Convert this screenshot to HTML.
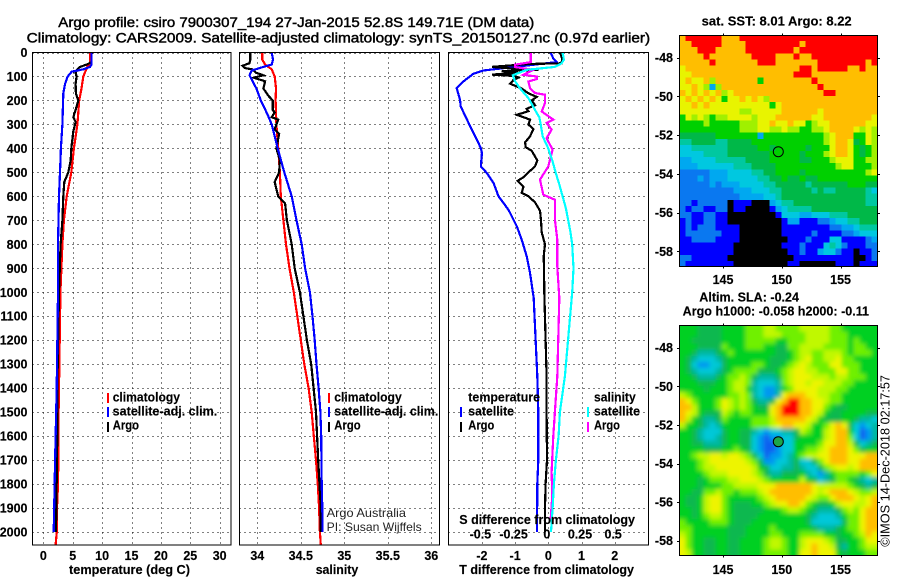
<!DOCTYPE html>
<html lang="en">
<head>
<meta charset="utf-8">
<title>Argo profile csiro 7900307_194</title>
<style>
html,body{margin:0;padding:0;background:#fff;}
svg{display:block;font-family:"Liberation Sans",sans-serif;}
text{fill:#000;}
.b{font-weight:bold;font-size:12.5px;stroke:#000;stroke-width:.15px;}
.lbl{stroke:#000;stroke-width:.15px;}
.t{font-size:14px;stroke:#000;stroke-width:.45px;}
.n{font-size:12px;fill:#222;}
</style>
</head>
<body>
<svg id="chart" xmlns="http://www.w3.org/2000/svg" width="900" height="580" viewBox="0 0 900 580">
  <defs>
    <clipPath id="clip-temp"><rect x="32.5" y="52.5" width="198.5" height="492.5"/></clipPath>
    <clipPath id="clip-sal"><rect x="239.5" y="52.5" width="200" height="492.5"/></clipPath>
    <clipPath id="clip-diff"><rect x="448.5" y="52.5" width="200" height="492.5"/></clipPath>
    <clipPath id="clip-sla"><rect x="679.5" y="325.5" width="198" height="230"/></clipPath>
    <clipPath id="clip-sst"><rect x="679.5" y="35.5" width="198" height="231"/></clipPath>
    <filter id="smooth" x="-5%" y="-5%" width="110%" height="110%"><feGaussianBlur stdDeviation="2.2"/></filter>
  </defs>
  <rect x="0" y="0" width="900" height="580" fill="#fff"/>

  <text class="t" x="58.3" y="27" textLength="476" lengthAdjust="spacingAndGlyphs">Argo profile: csiro 7900307_194 27-Jan-2015 52.8S 149.71E (DM data)</text>
  <text class="t" x="26.7" y="42.5" textLength="623.5" lengthAdjust="spacingAndGlyphs">Climatology: CARS2009. Satellite-adjusted climatology: synTS_20150127.nc (0.97d earlier)</text>

  <g id="layer-grid"></g>
  <g id="layer-temp" clip-path="url(#clip-temp)"></g>
  <g id="layer-sal" clip-path="url(#clip-sal)"></g>
  <g id="layer-diff" clip-path="url(#clip-diff)"></g>
  <g clip-path="url(#clip-sst)"><g id="layer-sst" shape-rendering="crispEdges"></g></g>
  <g clip-path="url(#clip-sla)"><g id="layer-sla" filter="url(#smooth)"></g></g>
  <g id="layer-frames"></g>

  <text class="b" x="69" y="574" textLength="121" lengthAdjust="spacingAndGlyphs">temperature (deg C)</text>
  <text class="b" x="315.7" y="574" textLength="42.6" lengthAdjust="spacingAndGlyphs">salinity</text>
  <text class="b" x="459.3" y="574" textLength="174.7" lengthAdjust="spacingAndGlyphs">T difference from climatology</text>
  <text class="b" x="459.3" y="524" textLength="175.7" lengthAdjust="spacingAndGlyphs">S difference from climatology</text>

  <g>
    <g><rect x="107" y="393" width="2" height="10" fill="#f00"/><text class="b" x="112.7" y="401.5" textLength="67.3" lengthAdjust="spacingAndGlyphs">climatology</text></g>
    <g><rect x="107" y="407" width="2" height="10" fill="#00f"/><text class="b" x="112.7" y="415.5" textLength="104.6" lengthAdjust="spacingAndGlyphs">satellite-adj. clim.</text></g>
    <g><rect x="107" y="422" width="2" height="10" fill="#000"/><text class="b" x="112.7" y="429.5" textLength="26.3" lengthAdjust="spacingAndGlyphs">Argo</text></g>
  </g>
  <g>
    <g><rect x="328" y="393" width="2" height="10" fill="#f00"/><text class="b" x="334.3" y="401.5" textLength="67.4" lengthAdjust="spacingAndGlyphs">climatology</text></g>
    <g><rect x="328" y="407" width="2" height="10" fill="#00f"/><text class="b" x="334.3" y="415.5" textLength="104" lengthAdjust="spacingAndGlyphs">satellite-adj. clim.</text></g>
    <g><rect x="328" y="422" width="2" height="10" fill="#000"/><text class="b" x="334.3" y="429.5" textLength="26.3" lengthAdjust="spacingAndGlyphs">Argo</text></g>
  </g>
  <g>
    <text class="b" x="468.3" y="401.5" textLength="71.7" lengthAdjust="spacingAndGlyphs">temperature</text>
    <g><rect x="460" y="407" width="2" height="10" fill="#00f"/><text class="b" x="468.3" y="415.5" textLength="45.7" lengthAdjust="spacingAndGlyphs">satellite</text></g>
    <g><rect x="460" y="422" width="2" height="10" fill="#000"/><text class="b" x="468.3" y="429.5" textLength="26" lengthAdjust="spacingAndGlyphs">Argo</text></g>
    <text class="b" x="594" y="401.5" textLength="41.7" lengthAdjust="spacingAndGlyphs">salinity</text>
    <g><rect x="587" y="407" width="2" height="10" fill="#0ff"/><text class="b" x="594" y="415.5" textLength="46" lengthAdjust="spacingAndGlyphs">satellite</text></g>
    <g><rect x="587" y="422" width="2" height="10" fill="#f0f"/><text class="b" x="594" y="429.5" textLength="26" lengthAdjust="spacingAndGlyphs">Argo</text></g>
  </g>
  <text class="n" x="326.7" y="517" textLength="79.3" lengthAdjust="spacingAndGlyphs">Argo Australia</text>
  <text class="n" x="326.7" y="531" textLength="95" lengthAdjust="spacingAndGlyphs">PI: Susan Wijffels</text>

  <text class="b" x="701.7" y="25.7" textLength="150" lengthAdjust="spacingAndGlyphs">sat. SST: 8.01 Argo: 8.22</text>
  <text class="b" x="699.3" y="301.3" textLength="99.7" lengthAdjust="spacingAndGlyphs">Altim. SLA: -0.24</text>
  <text class="b" x="682.7" y="315.7" textLength="186.3" lengthAdjust="spacingAndGlyphs">Argo h1000: -0.058 h2000: -0.11</text>
  <text font-size="13" transform="translate(889.5,546.7) rotate(-90)" textLength="171.7" lengthAdjust="spacingAndGlyphs">©IMOS 14-Dec-2018 02:17:57</text>

  <circle cx="778.3" cy="151.7" r="5" fill="none" stroke="#000" stroke-width="1"/>
  <circle cx="778.3" cy="441.7" r="5" fill="#1ca64a" stroke="#000" stroke-width="1"/>
</svg>

<script>
// ---- tick labels ----
const depthTicks = [0,100,200,300,400,500,600,700,800,900,1000,1100,1200,1300,1400,1500,1600,1700,1800,1900,2000];
const tempTicks = [0,5,10,15,20,25,30];
const salTicks = [34,34.5,35,35.5,36];
const tDiffTicks = [-2,-1,0,1,2];
const sDiffTicks = [-0.5,-0.25,0,0.25,0.5];
const sDiffTickLabels = ["-0.5","-0.25","0","0.25","0.5"];
const lonTicks = [145,150,155];
const latTicks = [-48,-50,-52,-54,-56,-58];

// ---- temperature profiles ----
const tempClimDepth = [0,50,59,100,150,200,300,400,500,600,700,800,900,1000,1400,1500,1700,1800,1900,2000,2054];
const tempClimValue = [8.0,8.0,7.5,6.8,6.5,6.1,5.8,5.2,4.76,3.98,3.5,3.25,3.07,2.9,2.67,2.6,2.55,2.5,2.33,2.3,2.1];
const tempSatDepth = [0,50,60,70,80,100,130,170,300,400,500,600,800,1000,1400,1700,2000];
const tempSatValue = [8.2,8.2,7.95,6.8,4.83,4.15,3.7,3.4,3.25,3.0,2.84,2.67,2.5,2.5,2.28,2.0,1.77];
const tempArgoDepth = [0,40,50,60,70,85,100,130,170,200,240,270,290,330,400,450,500,540,600,700,800,1000,1400,1600,2000];
const tempArgoValue = [8.2,8.2,7.4,6.24,5.8,5.5,5.67,5.5,5.55,5.95,5.5,5.1,5.5,5.1,4.76,4.66,4.25,3.57,3.4,3.25,2.95,2.67,2.38,2.38,2.16];

// ---- salinity profiles ----
const salClimDepth = [0,30,50,70,100,150,200,300,400,500,600,700,800,900,1000,1100,1200,1300,1400,1500,1600,1700,1800,1900,2000,2054];
const salClimValue = [34.057,34.057,34.09,34.165,34.2,34.215,34.21,34.22,34.24,34.26,34.27,34.3,34.33,34.37,34.42,34.46,34.5,34.54,34.59,34.625,34.65,34.675,34.695,34.71,34.72,34.73];
const salSatDepth = [0,30,50,60,75,95,150,200,260,300,400,500,600,700,800,900,1000,1100,1200,1300,1400,1500,1600,1800,1900,2000];
const salSatValue = [34.165,34.18,34.165,34.07,33.936,33.91,33.99,34.04,34.12,34.165,34.234,34.31,34.395,34.45,34.51,34.55,34.605,34.635,34.66,34.68,34.705,34.725,34.735,34.74,34.747,34.75];
const salArgoDepth = [0,30,45,55,65,70,85,95,105,120,150,180,200,240,250,270,280,320,340,400,450,500,540,600,630,700,800,900,1000,1100,1200,1300,1500,1700,1900,2000];
const salArgoValue = [33.92,33.92,33.91,33.83,33.86,33.94,33.99,34.07,33.96,34.09,34.07,34.126,34.177,34.177,34.2,34.165,34.24,34.2,34.25,34.22,34.26,34.25,34.2,34.24,34.32,34.34,34.395,34.43,34.49,34.53,34.57,34.62,34.675,34.7,34.73,34.73];

// ---- differences from climatology ----
const diffTSatDepth = [0,25,40,75,89,121,149,197,225,294,350,399,419,475,503,544,600,656,725,781,850,919,1024,1350,1500,1700,1800,2000];
const diffTSatValue = [0.07,0.15,0.25,-1.96,-2.26,-2.56,-2.76,-2.66,-2.64,-2.4,-2.2,-2.03,-2.0,-2.03,-1.85,-1.65,-1.5,-1.2,-0.95,-0.8,-0.65,-0.55,-0.44,-0.33,-0.3,-0.3,-0.33,-0.34];
const diffTArgoDepth = [0,25,45,48,60,68,72,78,85,92,98,105,115,130,150,170,185,200,220,235,245,260,280,300,320,350,375,395,410,450,475,500,520,535,560,585,600,625,660,700,750,800,850,900,1000,1350,1500,1700,1800,1900,2000];
const diffTArgoValue = [0.35,0.42,0.4,-0.6,-1.7,-1.0,-0.3,-1.4,-0.9,-1.7,-1.0,-0.9,-1.05,-1.15,-0.8,-0.6,-0.35,-0.5,-0.4,-0.65,-0.6,-0.95,-0.55,-0.6,-0.45,-0.55,-0.7,-0.68,-0.5,-0.33,-0.4,-0.6,-0.75,-0.92,-0.75,-0.8,-0.6,-0.4,-0.25,-0.22,-0.2,-0.1,-0.14,-0.13,-0.12,-0.05,-0.05,-0.04,-0.08,-0.1,-0.1];
const diffSSatDepth = [0,30,45,60,72,95,120,150,190,240,270,300,350,400,450,500,550,600,650,700,750,800,900,1000,1350,1500,1600,1700,1800,1900,2000];
const diffSSatValue = [0.1075,0.1175,0.1,0.05,-0.1625,-0.2675,-0.25,-0.2125,-0.15,-0.1,-0.0675,-0.0575,-0.0425,0,0.03,0.055,0.0825,0.1075,0.1325,0.15,0.1675,0.18,0.19,0.18,0.125,0.0875,0.0775,0.0575,0.0425,0.0325,0.02];
const diffSArgoDepth = [0,40,51,61,72,93,100,111,121,149,169,176,211,246,280,294,322,357,406,475,530,593,614,697,781,892,1024,1350,1500,1600,1750,1850,1950];
const diffSArgoValue = [-0.1325,-0.1325,-0.25,-0.25,-0.1125,-0.1875,-0.0875,-0.0875,-0.15,-0.1375,-0.1,-0.025,-0.025,-0.05,0.0375,-0.0125,0.025,-0.0125,0.0325,0,-0.0625,-0.0375,0.05,0.05,0.0675,0.0675,0.0825,0.0675,0.05,0.0375,0.025,0.03,0.0175];

// ---- SST map colour-level grid ----
const sstLevels = [
"abbbbbbaaabbbbbbbbbbbbbbbbbbbbbbb",
"aabbbbbaaaabbbbbbbbbabbbbbbbbbbbb",
"aaabbbaaaaabbbbbbbbabbbbbbbbbbbbb",
"aaaabaaaaaaabbbbaaabaabbbbbbbbbbb",
"aaaaabaaaaaaabbbaaaaaaabbbbbbbbab",
"9aaaaaaaaaaaaaaaaaaabbabbbbbaabaa",
"99aaaaaaaaaaaaaaaaabbbaaaaaaaaaaa",
"9a99a8aaaaaaa7aaaaaaaabaaaaaaaaaa",
"99a9838aaaaaaaaaaaaaaaabaaaaaaaaa",
"a9a9a9a89aaaaaaaaaaaaaaabbaaaaaaa",
"9a9a9a9799a9a98aaaaaaaaaaaaaaaaaa",
"99a9a999999999979aaaaaaaaaaaaaaaa",
"99999999998899999aaaaaa9aaaaaaaaa",
"798987889999899 9aaaaaa99aaaaaaaa9",
"777787777788899a99a997899aaaaaa99",
"7777777777888998898877889aaaa9898",
"66666677777773777777777789aaa7798",
"55666655666677777777777789aa96798",
"44555555666667767777767779aa97678",
"44445555666666677777677789aa97678",
"334444555556666777776677789997788",
"333444444555666677777777778997778",
"222223334444556677776777777777789",
"222323334444455667667667777777777",
"222223233344445566666566666677766",
"222222222333444556666656556666654",
"222222222233334456666666666666655",
"221222220111000345566666666666655",
"212211220110000134555566666666666",
"221122110000000014443344455566666",
"121122110000000001331112234455666",
"121222111100000001111111122334555",
"122222211100000001111121111223444",
"112222111100000000111211144111123",
"111111111000000001112111454211122",
"111111111000000000112113442110112",
"221111110000000000011111111110012",
"211111111000000000110000001110111"
].map(function(row){ return row.split(" ").join(""); });

// ---- SLA map colour-level grid ----
const slaLevels = [
"666555566667778877778888877666666",
"666555566667778887777888877766666",
"665555566667777766777888877767666",
"666555576667776655778888777767766",
"665444567666666655678877888767776",
"654333456666666555678977889776666",
"653223356666776556789877799777666",
"654333456777755567899887779977666",
"665444567787544457899988878877766",
"666555667887433347899899888776666",
"666656667886432246799998887766666",
"876666667787432249aaa998877666666",
"a97666798787544 59abbaa99877666666",
"aa86667987876559abbbaa99765566666",
"a986555876776669abbbaa98655666655",
"a865445766667778aaaaa986555665443",
"86654346666677789aa9986679a953234",
"66543335665543233445876689aa63124",
"66543345665532122335666689aa73124",
"66554445665532112336666799aa85345",
"6666555667653211233667789aaa97566",
"6678899899875312234678899aaa999aa",
"6667899999987522334533579aaa99aaa",
"666788999999865334454335789989aaa",
"666678889999875445556432467777679",
"666567778899987666668653457765434",
"6665666778888999aaaaaa98888876545",
"665577877677789aaaaaaa989aaa98778",
"6556899766666789aaaaa98779aaa989a",
"655689976555667899aa976556899889a",
"6656899765555566678876544457879aa",
"6656788765555666666665433346779aa",
"7666677765556666666665333335779aa",
"7766666655566667666666544456779aa",
"8766666655566667766677776656678a9",
"976655665566667887668999875566799",
"9766556655666678876689a9985466788",
"9866556655666677776699a9996566677"
].map(function(row){ return row.split(" ").join(""); });

const NS = "http://www.w3.org/2000/svg";
const sstPalette = {"0":"#000000","1":"#0000ff","2":"#0a78f0","3":"#00a8f0","4":"#00c8e0","5":"#00c8a0","6":"#00b848","7":"#00d000","8":"#a0f000","9":"#e8f400","a":"#ffbe00","b":"#ff0000"};
const slaPalette = {"1":"#1060f0","2":"#0098f0","3":"#00c8d8","4":"#00b8a0","5":"#10b850","6":"#00d020","7":"#70f000","8":"#c0f800","9":"#eef400","a":"#ffbe00","b":"#ff0000"};

// ---- axis functions ----
function depthY(d){ return 52.5 + 0.23975 * d; }
function tempX(t){ return 43.3 + 5.88 * t; }
function salX(s){ return 257.3 + 87 * (s - 34); }
function tDiffX(v){ return 548.3 + 33.2 * v; }
function sDiffX(v){ return 548.3 + 132.8 * v; }
function lonX(l){ return 723 + 11.76 * (l - 145); }
function sstLatY(l){ return 57.7 + 19.36 * (-48 - l); }
function slaLatY(l){ return 347.7 + 19.3 * (-48 - l); }

function el(tag, attrs, parent){
  const e = document.createElementNS(NS, tag);
  for (const k in attrs) e.setAttribute(k, attrs[k]);
  parent.appendChild(e);
  return e;
}
function label(parent, str, x, y, anchor, size){
  const t = el("text", {x:x, y:y, class:"lbl", "text-anchor":anchor, "font-weight":"bold", "font-size":size||12.5}, parent);
  t.textContent = str;
  return t;
}

// ---- grids and frames ----
const gridLayer = document.getElementById("layer-grid");
const frameLayer = document.getElementById("layer-frames");
const panels = [
  {name:"temperature", x0:32.5, x1:231, ticks:tempTicks, fx:tempX},
  {name:"salinity", x0:239.5, x1:439.5, ticks:salTicks, fx:salX},
  {name:"difference", x0:448.5, x1:648.5, ticks:tDiffTicks, fx:tDiffX}
];
panels.forEach(function(p){
  depthTicks.forEach(function(d){
    const y = Math.round(depthY(d)) + 0.5;
    const g = el("line", {x1:p.x0, x2:p.x1, y1:y, y2:y, stroke:"#000", "stroke-width":1, "stroke-dasharray":"1 4", "shape-rendering":"crispEdges"}, gridLayer);
    
    
  });
  p.ticks.forEach(function(v){
    const x = Math.round(p.fx(v)) + 0.5;
    const g = el("line", {x1:x, x2:x, y1:52.5, y2:545, stroke:"#000", "stroke-width":1, "stroke-dasharray":"1 4", "shape-rendering":"crispEdges"}, gridLayer);
    
    
  });
  const f = el("rect", {x:p.x0, y:52.5, width:p.x1-p.x0, height:492.5, fill:"none", stroke:"#000", "stroke-width":1, "shape-rendering":"crispEdges"}, frameLayer);
  
  
});

// ---- tick labels ----
depthTicks.forEach(function(d){
  const t = label(frameLayer, String(d), 27.5, depthY(d) + 4.5, "end");
  
  
});
tempTicks.forEach(function(v){
  const t = label(frameLayer, String(v), tempX(v), 560, "middle");
  
  
});
salTicks.forEach(function(v){
  const t = label(frameLayer, String(v), salX(v), 560, "middle");
  
  
});
tDiffTicks.forEach(function(v){
  const t = label(frameLayer, String(v), tDiffX(v), 560, "middle");
  
  
});
sDiffTicks.forEach(function(v, i){
  const t = label(frameLayer, sDiffTickLabels[i], sDiffX(v) - 1.5, 538.7, "middle");
  
  
});

// ---- profile lines ----
function profile(layerId, depths, values, fx, color, name){
  const pts = depths.map(function(d, i){ return fx(values[i]).toFixed(1) + "," + depthY(d).toFixed(1); }).join(" ");
  const line = el("polyline", {points:pts, fill:"none", stroke:color, "stroke-width":2.2, "stroke-linejoin":"miter", "shape-rendering":"crispEdges"}, document.getElementById(layerId));
  
  
}
profile("layer-temp", tempClimDepth, tempClimValue, tempX, "#f00", "temperature-climatology-line");
profile("layer-temp", tempArgoDepth, tempArgoValue, tempX, "#000", "temperature-argo-line");
profile("layer-temp", tempSatDepth, tempSatValue, tempX, "#00f", "temperature-satellite-line");
profile("layer-sal", salClimDepth, salClimValue, salX, "#f00", "salinity-climatology-line");
profile("layer-sal", salArgoDepth, salArgoValue, salX, "#000", "salinity-argo-line");
profile("layer-sal", salSatDepth, salSatValue, salX, "#00f", "salinity-satellite-line");
profile("layer-diff", diffTSatDepth, diffTSatValue, tDiffX, "#00f", "t-difference-satellite-line");
profile("layer-diff", diffTArgoDepth, diffTArgoValue, tDiffX, "#000", "t-difference-argo-line");
profile("layer-diff", diffSArgoDepth, diffSArgoValue, sDiffX, "#f0f", "s-difference-argo-line");
profile("layer-diff", diffSSatDepth, diffSSatValue, sDiffX, "#0ff", "s-difference-satellite-line");

// ---- map cells ----
function drawCells(layerId, rows, palette, x0, y0, w, h, name, bleed){
  const layer = document.getElementById(layerId);
  const nr = rows.length;
  const cw = w / 33, ch = h / nr;
  rows.forEach(function(row, r){
    for (let c = 0; c < 33 && c < row.length; c++){
      const col = palette[row[c]] || palette["6"];
      let x = x0 + c * cw, y = y0 + r * ch, rw = cw + 0.6, rh = ch + 0.6;
      if (bleed){
        if (c === 0){ x -= bleed; rw += bleed; }
        if (c === 32){ rw += bleed; }
        if (r === 0){ y -= bleed; rh += bleed; }
        if (r === nr - 1){ rh += bleed; }
      }
      const cell = el("rect", {x:x.toFixed(2), y:y.toFixed(2), width:rw.toFixed(2), height:rh.toFixed(2), fill:col}, layer);
      
      
    }
  });
}
drawCells("layer-sst", sstLevels, sstPalette, 679.5, 35, 198, 232, "sst-cell", 0);
drawCells("layer-sla", slaLevels, slaPalette, 679.5, 325.5, 198, 230, "sla-cell", 10);

// ---- map frames, ticks and labels ----
const maps = [
  {name:"sst", y0:35.5, y1:266.5, latY:sstLatY, lonLabelY:284},
  {name:"sla", y0:325.5, y1:555.5, latY:slaLatY, lonLabelY:574}
];
maps.forEach(function(m){
  const f = el("rect", {x:679.5, y:m.y0, width:198, height:m.y1-m.y0, fill:"none", stroke:"#000", "stroke-width":1, "shape-rendering":"crispEdges"}, frameLayer);
  
  
  lonTicks.forEach(function(l){
    const x = Math.round(lonX(l)) + 0.5;
    const t1 = el("line", {x1:x, x2:x, y1:m.y0-2, y2:m.y0, stroke:"#000", "shape-rendering":"crispEdges"}, frameLayer);
    
    
    const t2 = el("line", {x1:x, x2:x, y1:m.y1, y2:m.y1+2, stroke:"#000", "shape-rendering":"crispEdges"}, frameLayer);
    
    
    const lab = label(frameLayer, String(l), lonX(l), m.lonLabelY, "middle");
    
    
  });
  latTicks.forEach(function(l){
    const y = Math.round(m.latY(l)) + 0.5;
    const t1 = el("line", {x1:877.5, x2:880, y1:y, y2:y, stroke:"#000", "shape-rendering":"crispEdges"}, frameLayer);
    
    
    const t2 = el("line", {x1:677, x2:679.5, y1:y, y2:y, stroke:"#000", "shape-rendering":"crispEdges"}, frameLayer);
    
    
    const lab = label(frameLayer, String(l), 673, m.latY(l) + 4.5, "end");
    
    
  });
});
</script>
</body>
</html>
